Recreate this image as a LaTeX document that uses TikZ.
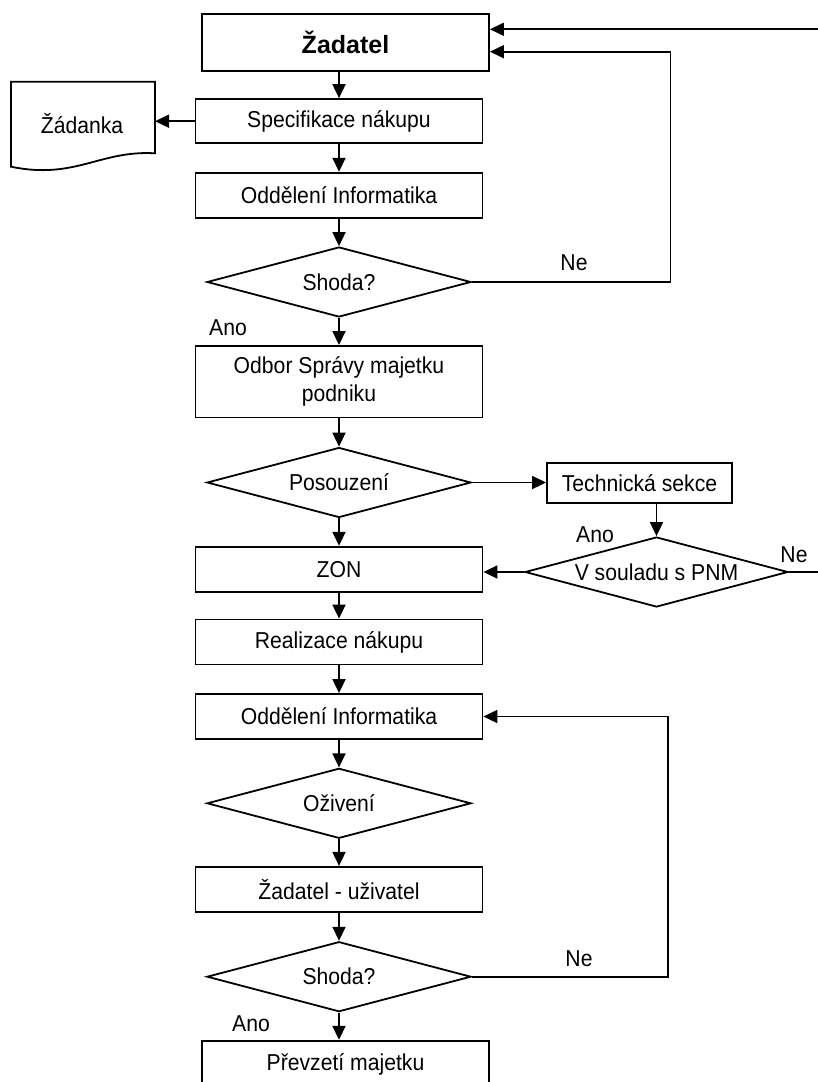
\documentclass[tikz,border=0pt]{standalone}
\usepackage{fontspec}
\setmainfont{Liberation Sans}[FakeStretch=0.92]
\newfontfamily\headfont{Liberation Sans}
\usetikzlibrary{shapes.geometric,arrows.meta}

\begin{document}
\begin{tikzpicture}[x=1pt,y=-1pt,
  line width=1.8pt,
  font=\fontsize{23}{28}\selectfont,
  box/.style={draw, rectangle, inner sep=0pt, minimum width=287pt,
    minimum height=45pt, align=center},
  dia/.style={draw, diamond, aspect=3.77, inner sep=0pt,
    minimum width=264pt, minimum height=70pt},
  lbl/.style={inner sep=0pt},
  arr/.style={-{Triangle[length=14pt,width=13pt]}},
  ]
\useasboundingbox (0,0) rectangle (818,1082);
\clip (0,0) rectangle (818,1082);

% main column
\node[box, minimum height=56.7pt,
  font=\headfont\bfseries\fontsize{25}{30}\selectfont] (zad) at (345.5,42.3) {Žadatel};
\node[box, minimum height=44.3pt] (spec) at (339,121.2) {Specifikace nákupu};
\node[box] (odd1) at (339,195.2) {Oddělení Informatika};
\node[dia] (shoda1) at (339,282) {Shoda?};
\node[box, minimum height=71.5pt] (odbor) at (339,381.7) {Odbor Správy majetku\\podniku};
\node[dia] (pos) at (339,482.5) {Posouzení};
\node[box, minimum width=185pt, minimum height=40pt] (tech) at (639.5,483) {Technická sekce};
\node[dia, minimum width=263pt] (soulad) at (656.5,572) {V souladu s PNM};
\node[box] (zon) at (339,569.2) {ZON};
\node[box] (real) at (339,642) {Realizace nákupu};
\node[box] (odd2) at (339,716.5) {Oddělení Informatika};
\node[dia] (ozi) at (339,803.3) {Oživení};
\node[box] (uziv) at (339,889.3) {Žadatel - uživatel};
\node[dia] (shoda2) at (339,976.7) {Shoda?};
\node[box, minimum height=48pt] (prev) at (345.5,1064.7) {Převzetí majetku};

% document symbol with a wavy lower edge
\draw (11,81.7) -- (155,81.7) -- (155,153.3)
  .. controls (100,150) and (75,180) .. (11,166.7) -- cycle;
\coordinate (docR) at (155,121.2);
\node[lbl] (doc) at (82,123.3) {Žádanka};

% branch labels
\node[lbl] (ne1) at (574,263) {Ne};
\node[lbl] (ano1) at (228,328) {Ano};
\node[lbl] (ano2) at (595,535) {Ano};
\node[lbl] (ne2) at (794,555) {Ne};
\node[lbl] (ne3) at (579,959) {Ne};
\node[lbl] (ano3) at (251,1024) {Ano};

% connectors
\draw[arr] (zad.south -| spec.north) -- (spec.north);
\draw[arr] (spec.west) -- (docR);
\draw[arr] (spec.south) -- (odd1.north);
\draw[arr] (odd1.south) -- (shoda1.north);
\draw[arr] (shoda1.south) -- (odbor.north);
\draw[arr] (shoda1.east) -- ++(198.5,0) |- ([yshift=-9.4pt]zad.east);
\draw[arr] (odbor.south) -- (pos.north);
\draw[arr] (pos.east) -- (pos.east -| tech.west);
\draw[arr] (tech.south -| soulad.north) -- (soulad.north);
\draw[arr] (pos.south) -- (zon.north);
\draw[arr] (soulad.west) -- (soulad.west -| zon.east);
\coordinate (edgeTop) at (840,29.3);
\draw[arr] (soulad.east) -| (edgeTop) -- (edgeTop -| zad.east);
\draw[arr] (zon.south) -- (real.north);
\draw[arr] (real.south) -- (odd2.north);
\draw[arr] (odd2.south) -- (ozi.north);
\draw[arr] (ozi.south) -- (uziv.north);
\draw[arr] (uziv.south) -- (shoda2.north);
\draw[arr] (shoda2.east) -- ++(196,0) |- (odd2.east);
\draw[arr] (shoda2.south) -- (shoda2.south |- prev.north);
\end{tikzpicture}
\end{document}
